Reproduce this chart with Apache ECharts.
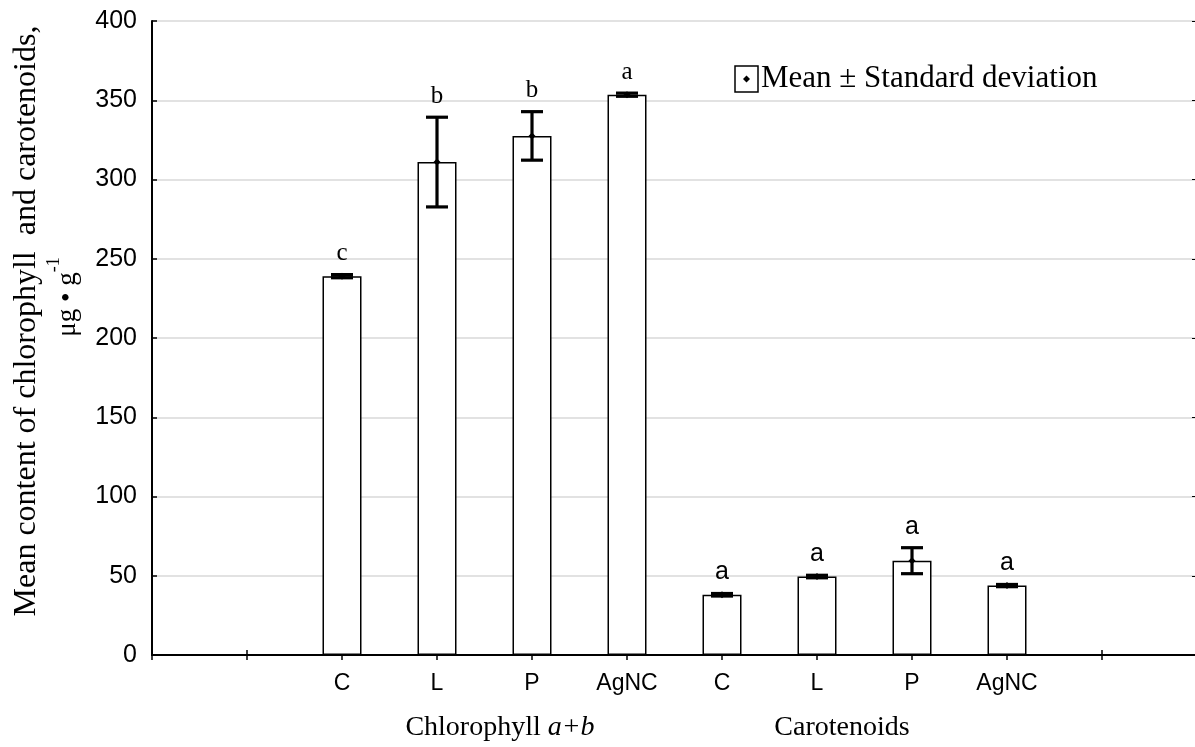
<!DOCTYPE html>
<html>
<head>
<meta charset="utf-8">
<style>html,body{margin:0;padding:0;background:#fff;overflow:hidden}#c{width:1200px;height:747px}</style>
<script src="https://cdn.jsdelivr.net/npm/echarts@6/dist/echarts.min.js"></script>
</head>
<body>
<div id="c"></div>
<script>
// ---- data ----
const categories = ['', '', 'C', 'L', 'P', 'AgNC', 'C', 'L', 'P', 'AgNC', '', ''];
const barPositions = [2, 3, 4, 5, 6, 7, 8, 9];
const means = [239, 311, 327.5, 353.5, 38, 49.5, 59.5, 43.8];
const sds = [1, 28.3, 15.3, 1, 0.8, 0.8, 8.2, 0.7];
const letters = ['c', 'b', 'b', 'a', 'a', 'a', 'a', 'a'];
const groupOf = [0, 0, 0, 0, 1, 1, 1, 1];
const groupNames = ['Chlorophyll ', 'Carotenoids'];
const yTicks = [0, 50, 100, 150, 200, 250, 300, 350, 400];
const legendText = 'Mean \u00b1 Standard deviation';

const SERIF = '"Liberation Serif", "Times New Roman", serif';
const SANS = '"Liberation Sans", Arial, sans-serif';

const barData = categories.map(() => '-');
barPositions.forEach((p, i) => { barData[p] = means[i]; });
const errData = barPositions.map((p, i) => [p, means[i], sds[i], i]);

const chart = echarts.init(document.getElementById('c'), null, {renderer: 'canvas'});
const option = {
  animation: false,
  backgroundColor: '#fff',
  grid: {left: 152, top: 21, width: 1045, height: 634, containLabel: false},
  xAxis: [{
    type: 'category', data: categories, boundaryGap: false, position: 'bottom',
    axisLine: {lineStyle: {color: '#000', width: 2}},
    axisTick: {inside: true, length: 5, interval: 0, lineStyle: {color: '#000', width: 1.5}},
    axisLabel: {interval: 0, margin: 17, color: '#000', fontFamily: SANS, fontSize: 23},
    splitLine: {show: false}
  }, {
    type: 'category', data: categories, boundaryGap: false, position: 'top',
    axisLine: {lineStyle: {color: '#000', width: 2}},
    axisTick: {inside: true, length: 5, interval: 0, lineStyle: {color: '#000', width: 1.5}},
    axisLabel: {show: false}, splitLine: {show: false}
  }],
  yAxis: [{
    type: 'value', min: yTicks[0], max: yTicks[yTicks.length - 1], interval: 50,
    axisLine: {show: true, lineStyle: {color: '#000', width: 2}},
    axisTick: {show: true, inside: true, length: 5, lineStyle: {color: '#000', width: 1.5}},
    axisLabel: {margin: 15, color: '#000', fontFamily: SANS, fontSize: 25},
    splitLine: {show: true, lineStyle: {color: '#d9d9d9', width: 1.5}}
  }, {
    type: 'value', min: yTicks[0], max: yTicks[yTicks.length - 1], interval: 50, position: 'right',
    axisLine: {show: true, lineStyle: {color: '#000', width: 2}},
    axisTick: {show: true, inside: true, length: 5, lineStyle: {color: '#000'}},
    axisLabel: {show: false}, splitLine: {show: false}
  }],
  series: [{
    type: 'bar', data: barData, barWidth: 39, xAxisIndex: 0, yAxisIndex: 0,
    itemStyle: {color: '#fff', borderColor: '#000', borderWidth: 1.5},
    z: 2
  }, {
    type: 'custom', xAxisIndex: 0, yAxisIndex: 0, data: errData, z: 5,
    renderItem: function (params, api) {
      const x = api.value(0), m = api.value(1), sd = api.value(2), idx = api.value(3);
      const pT = api.coord([x, m + sd]);
      const pB = api.coord([x, m - sd]);
      const pM = api.coord([x, m]);
      const cap = 11;
      const st = {stroke: '#000', lineWidth: 3.2};
      const serif = groupOf[idx] === 0;
      return {
        type: 'group',
        children: [
          {type: 'line', shape: {x1: pT[0], y1: pT[1], x2: pB[0], y2: pB[1]}, style: st},
          {type: 'line', shape: {x1: pT[0] - cap, y1: pT[1], x2: pT[0] + cap, y2: pT[1]}, style: st},
          {type: 'line', shape: {x1: pB[0] - cap, y1: pB[1], x2: pB[0] + cap, y2: pB[1]}, style: st},
          {type: 'polygon', shape: {points: [[pM[0], pM[1] - 3.5], [pM[0] + 3.5, pM[1]], [pM[0], pM[1] + 3.5], [pM[0] - 3.5, pM[1]]]}, style: {fill: '#000'}},
          {type: 'text', x: pT[0], y: pT[1] - 21, style: {
            text: letters[idx], fill: '#000', align: 'center', verticalAlign: 'middle',
            font: (serif ? '25px ' + SERIF : '25px ' + SANS)
          }}
        ]
      };
    }
  }],
  graphic: [
    {type: 'text', rotation: Math.PI / 2, x: 27, y: 321,
      style: {text: 'Mean content of chlorophyll  and carotenoids,', fill: '#000', font: '32px ' + SERIF, align: 'center', verticalAlign: 'middle'}},
    {type: 'text', rotation: Math.PI / 2, x: 63, y: 297,
      style: {
        text: '{a|\u03bcg \u2022 g}{s|-1}', align: 'center', verticalAlign: 'middle',
        rich: {
          a: {font: '27px ' + SERIF, fill: '#000', lineHeight: 36, verticalAlign: 'bottom'},
          s: {font: '18px ' + SERIF, fill: '#000', lineHeight: 36, verticalAlign: 'top'}
        }
      }},
    {type: 'text', x: 500, y: 728,
      style: {text: '{n|' + groupNames[0] + '}{i|a+b}', align: 'center', verticalAlign: 'middle',
        rich: {n: {font: '28px ' + SERIF, fill: '#000'}, i: {font: 'italic 28px ' + SERIF, fill: '#000'}}}},
    {type: 'text', x: 842, y: 728,
      style: {text: groupNames[1], font: '28px ' + SERIF, fill: '#000', align: 'center', verticalAlign: 'middle'}},
    {type: 'rect', shape: {x: 735, y: 66, width: 23, height: 26}, style: {fill: '#fff', stroke: '#000', lineWidth: 1.5}},
    {type: 'polygon', shape: {points: [[746.5, 75.5], [750, 79], [746.5, 82.5], [743, 79]]}, style: {fill: '#000'}},
    {type: 'text', x: 761, y: 79,
      style: {text: legendText, font: '31px ' + SERIF, fill: '#000', align: 'left', verticalAlign: 'middle'}}
  ]
};
chart.setOption(option);
</script>
</body>
</html>
